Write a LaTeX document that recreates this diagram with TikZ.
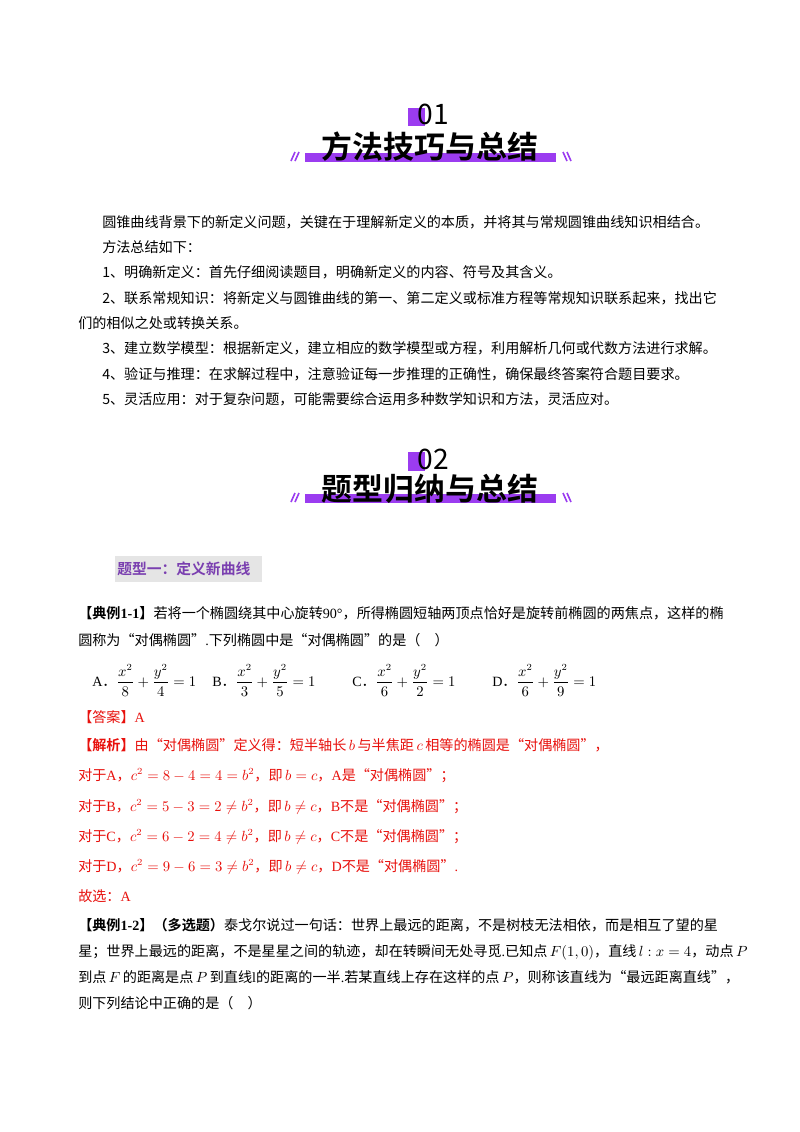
\documentclass[tikz,border=0pt]{standalone}
\usepackage{amsmath}
\usepackage{fontspec}
\setmainfont{Noto Sans CJK SC}[BoldFont={Noto Sans CJK SC Bold}]
\newfontfamily\lat{Liberation Serif}
\definecolor{pur}{HTML}{9B3CF0}
\definecolor{ans}{HTML}{E8100C}
\definecolor{hd}{HTML}{7A3FB0}
\begin{document}
\begin{tikzpicture}[x=0.744pt,y=-0.744pt,
  body/.style={anchor=base west,inner sep=0pt,font=\fontsize{10.5}{12}\selectfont},
  red/.style={body,text=ans},
  ttl/.style={anchor=base,inner sep=0pt,font=\fontsize{23}{26}\bfseries\selectfont},
  num/.style={anchor=base,inner sep=0pt,font=\fontsize{21}{24}\selectfont},
  bar/.style={fill=pur,draw=none},
  sl/.style={pur,line width=1.2pt}]
\useasboundingbox[fill=white] (0,0) rectangle (800,1132);
% header 01
\fill[bar] (408,108) rectangle (425,126);
\node[num] (n1) at (433,124) {01};
\fill[bar] (305,153) rectangle (556,162);
\node[ttl] (t1) at (430,158) {方法技巧与总结};
\draw[sl] (291,161)--(295,152) (295,161)--(299,152);
\draw[sl] (563,152)--(567,161) (567,152)--(571,161);
% text
\node[body] (p0) at (102,227) {圆锥曲线背景下的新定义问题，关键在于理解新定义的本质，并将其与常规圆锥曲线知识相结合。};
\node[body] (p1) at (102,252) {方法总结如下：};
\node[body] (p2) at (102,277) {1、明确新定义：首先仔细阅读题目，明确新定义的内容、符号及其含义。};
\node[body] (p3) at (102,303) {2、联系常规知识：将新定义与圆锥曲线的第一、第二定义或标准方程等常规知识联系起来，找出它};
\node[body] (p3b) at (78,328) {们的相似之处或转换关系。};
\node[body] (p4) at (102,353) {3、建立数学模型：根据新定义，建立相应的数学模型或方程，利用解析几何或代数方法进行求解。};
\node[body] (p5) at (102,379) {4、验证与推理：在求解过程中，注意验证每一步推理的正确性，确保最终答案符合题目要求。};
\node[body] (p6) at (102,404) {5、灵活应用：对于复杂问题，可能需要综合运用多种数学知识和方法，灵活应对。};
% header 02
\fill[bar] (408,452) rectangle (425,471);
\node[num] (n2) at (433,469) {02};
\fill[bar] (305,494) rectangle (556,503);
\node[ttl] (t2) at (430,500) {题型归纳与总结};
\draw[sl] (291,502)--(295,493) (295,502)--(299,493);
\draw[sl] (563,493)--(567,502) (567,493)--(571,502);
% type heading
\fill[black!10] (115,556) rectangle (262,582);
\node[body,font=\fontsize{11}{12}\bfseries\selectfont,text=hd] (h1) at (117,574) {题型一：定义新曲线};
% example 1-1
\node[body] (e1) at (78,618) {\textbf{【典例{\lat 1-1}】}若将一个椭圆绕其中心旋转{\lat 90°}，所得椭圆短轴两顶点恰好是旋转前椭圆的两焦点，这样的椭};
\node[body] (e2) at (78,645) {圆称为“对偶椭圆”{\lat .}下列椭圆中是“对偶椭圆”的是（\quad）};
\node[body] (oa) at (92,686) {{\lat A}．$\dfrac{x^2}{8}+\dfrac{y^2}{4}=1$};
\node[body] (ob) at (212,686) {{\lat B}．$\dfrac{x^2}{3}+\dfrac{y^2}{5}=1$};
\node[body] (oc) at (352,686) {{\lat C}．$\dfrac{x^2}{6}+\dfrac{y^2}{2}=1$};
\node[body] (od) at (492,686) {{\lat D}．$\dfrac{x^2}{6}+\dfrac{y^2}{9}=1$};
\node[red] (an) at (78,722) {【答案】{\lat A}};
\node[red] (jx) at (78,750) {\textbf{【解析】}由“对偶椭圆”定义得：短半轴长$\,b\,$与半焦距$\,c\,$相等的椭圆是“对偶椭圆”，};
\node[red] (ra) at (78,780) {对于{\lat A}，$c^2=8-4=4=b^2$，即$\,b=c$，{\lat A}是“对偶椭圆”；};
\node[red] (rb) at (78,811) {对于{\lat B}，$c^2=5-3=2\neq b^2$，即$\,b\neq c$，{\lat B}不是“对偶椭圆”；};
\node[red] (rc) at (78,841) {对于{\lat C}，$c^2=6-2=4\neq b^2$，即$\,b\neq c$，{\lat C}不是“对偶椭圆”；};
\node[red] (rd) at (78,871) {对于{\lat D}，$c^2=9-6=3\neq b^2$，即$\,b\neq c$，{\lat D}不是“对偶椭圆”{\lat .}};
\node[red] (gx) at (78,901) {故选：{\lat A}};
% example 1-2
\node[body] (f1) at (78,930) {\textbf{【典例{\lat 1-2}】（多选题）}泰戈尔说过一句话：世界上最远的距离，不是树枝无法相依，而是相互了望的星};
\node[body] (f2) at (78,956) {星；世界上最远的距离，不是星星之间的轨迹，却在转瞬间无处寻觅{\lat .}已知点$\,F(1,0)$，直线$\,l:x=4$，动点$\,P$};
\node[body] (f3) at (78,982) {到点$\,F\,$的距离是点$\,P\,$到直线{\lat l}的距离的一半{\lat .}若某直线上存在这样的点$\,P$，则称该直线为“最远距离直线”，};
\node[body] (f4) at (78,1008) {则下列结论中正确的是（\quad）};
\end{tikzpicture}
\end{document}
